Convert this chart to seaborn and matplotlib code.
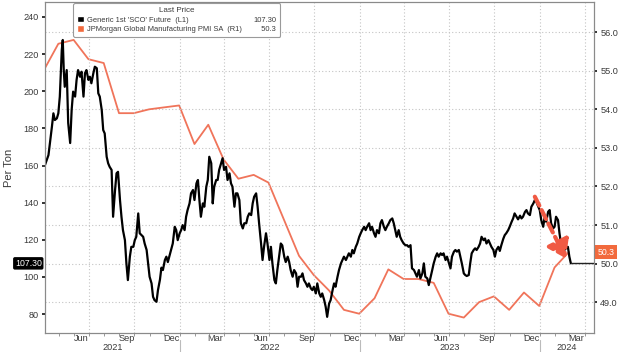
import pandas as pd
import matplotlib
matplotlib.use('Agg')
import matplotlib.pyplot as plt
import matplotlib.dates as mdates
import matplotlib.transforms as mtransforms
from matplotlib.patches import Patch
import seaborn as sns

# # Data
sco_dates = [
    '2021-04-03', '2021-04-10', '2021-04-17', '2021-04-20', '2021-04-23', '2021-04-27', '2021-04-30',
    '2021-05-03', '2021-05-07', '2021-05-09', '2021-05-11', '2021-05-13', '2021-05-17', '2021-05-20',
    '2021-05-24', '2021-05-27', '2021-05-30', '2021-06-03', '2021-06-06', '2021-06-09', '2021-06-13',
    '2021-06-16', '2021-06-20', '2021-06-23', '2021-06-26', '2021-06-30', '2021-07-03', '2021-07-06',
    '2021-07-10', '2021-07-13', '2021-07-17', '2021-07-20', '2021-07-23', '2021-07-27', '2021-07-30',
    '2021-08-02', '2021-08-06', '2021-08-09', '2021-08-12', '2021-08-16', '2021-08-19', '2021-08-23',
    '2021-08-26', '2021-08-29', '2021-09-02', '2021-09-05', '2021-09-08', '2021-09-12', '2021-09-15',
    '2021-09-18', '2021-09-22', '2021-09-25', '2021-09-29', '2021-10-02', '2021-10-05', '2021-10-09',
    '2021-10-12', '2021-10-19', '2021-10-22', '2021-10-26', '2021-10-29', '2021-11-01', '2021-11-05',
    '2021-11-08', '2021-11-11', '2021-11-15', '2021-11-18', '2021-11-22', '2021-11-25', '2021-11-28',
    '2021-12-02', '2021-12-05', '2021-12-08', '2021-12-12', '2021-12-18', '2021-12-22', '2021-12-25',
    '2021-12-28', '2022-01-01', '2022-01-04', '2022-01-07', '2022-01-11', '2022-01-14', '2022-01-17',
    '2022-01-21', '2022-01-24', '2022-01-28', '2022-01-31', '2022-02-04', '2022-02-07', '2022-02-10',
    '2022-02-13', '2022-02-17', '2022-02-20', '2022-02-24', '2022-02-27', '2022-03-02', '2022-03-06',
    '2022-03-09', '2022-03-12', '2022-03-16', '2022-03-19', '2022-03-22', '2022-03-26', '2022-03-29',
    '2022-04-01', '2022-04-05', '2022-04-08', '2022-04-12', '2022-04-15', '2022-04-18', '2022-04-22',
    '2022-04-25', '2022-04-28', '2022-05-02', '2022-05-05', '2022-05-09', '2022-05-12', '2022-05-16',
    '2022-05-19', '2022-05-22', '2022-05-26', '2022-05-29', '2022-06-01', '2022-06-05', '2022-06-08',
    '2022-06-11', '2022-06-15', '2022-06-18', '2022-06-21', '2022-06-25', '2022-06-28', '2022-07-02',
    '2022-07-05', '2022-07-08', '2022-07-12', '2022-07-15', '2022-07-18', '2022-07-22', '2022-07-25',
    '2022-07-28', '2022-08-01', '2022-08-04', '2022-08-08', '2022-08-11', '2022-08-14', '2022-08-18',
    '2022-08-21', '2022-08-25', '2022-08-28', '2022-08-31', '2022-09-04', '2022-09-07', '2022-09-10',
    '2022-09-14', '2022-09-17', '2022-09-20', '2022-09-24', '2022-09-27', '2022-09-30', '2022-10-04',
    '2022-10-07', '2022-10-11', '2022-10-14', '2022-10-17', '2022-10-21', '2022-10-24', '2022-10-27',
    '2022-10-31', '2022-11-03', '2022-11-07', '2022-11-10', '2022-11-13', '2022-11-17', '2022-11-20',
    '2022-11-24', '2022-11-27', '2022-11-30', '2022-12-04', '2022-12-07', '2022-12-10', '2022-12-14',
    '2022-12-17', '2022-12-20', '2022-12-24', '2022-12-27', '2022-12-31', '2023-01-03', '2023-01-06',
    '2023-01-10', '2023-01-13', '2023-01-16', '2023-01-20', '2023-01-23', '2023-01-26', '2023-01-30',
    '2023-02-02', '2023-02-05', '2023-02-09', '2023-02-12', '2023-02-15', '2023-02-19', '2023-02-22',
    '2023-02-25', '2023-03-01', '2023-03-04', '2023-03-08', '2023-03-11', '2023-03-14', '2023-03-17',
    '2023-03-21', '2023-03-24', '2023-03-27', '2023-03-31', '2023-04-04', '2023-04-07', '2023-04-10',
    '2023-04-14', '2023-04-17', '2023-04-21', '2023-04-24', '2023-04-27', '2023-05-01', '2023-05-04',
    '2023-05-08', '2023-05-11', '2023-05-14', '2023-05-18', '2023-05-21', '2023-05-25', '2023-05-28',
    '2023-05-31', '2023-06-04', '2023-06-07', '2023-06-10', '2023-06-14', '2023-06-17', '2023-06-20',
    '2023-06-24', '2023-06-27', '2023-07-01', '2023-07-04', '2023-07-07', '2023-07-11', '2023-07-14',
    '2023-07-17', '2023-07-21', '2023-07-24', '2023-07-27', '2023-07-31', '2023-08-03', '2023-08-06',
    '2023-08-10', '2023-08-13', '2023-08-16', '2023-08-20', '2023-08-23', '2023-08-26', '2023-08-30',
    '2023-09-02', '2023-09-05', '2023-09-09', '2023-09-12', '2023-09-15', '2023-09-19', '2023-09-22',
    '2023-09-25', '2023-09-29', '2023-10-02', '2023-10-05', '2023-10-09', '2023-10-12', '2023-10-15',
    '2023-10-19', '2023-10-22', '2023-10-25', '2023-10-29', '2023-11-01', '2023-11-05', '2023-11-08',
    '2023-11-11', '2023-11-15', '2023-11-18', '2023-11-22', '2023-11-25', '2023-11-28', '2023-12-02',
    '2023-12-05', '2023-12-08', '2023-12-12', '2023-12-15', '2023-12-19', '2023-12-22', '2023-12-25',
    '2023-12-29', '2024-01-01', '2024-01-04', '2024-01-08', '2024-01-11', '2024-01-14', '2024-01-18',
    '2024-01-21', '2024-01-24', '2024-01-28', '2024-01-31', '2024-02-03', '2024-02-07', '2024-02-10',
    '2024-02-13', '2024-02-17', '2024-02-20', '2024-02-23', '2024-02-27', '2024-03-01', '2024-03-04',
]
sco_price = [
    160.3, 165.6, 180.9, 188.1, 184.5, 185.4, 188.1,
    197.1, 222.2, 227.6, 211.4, 202.4, 211.4, 182.9,
    172.1, 189.9, 199.8, 197.1, 206.1, 211.4, 207.8,
    210.5, 197.1, 209.7, 211.4, 206.1, 207.8, 204.3,
    209.7, 213.2, 212.4, 198.9, 197.1, 189.9, 179.1,
    177.3, 164.7, 161.2, 159.3, 157.6, 132.4, 146.8,
    155.8, 156.6, 141.4, 132.4, 125.2, 119.8, 107.3,
    98.3, 110.9, 116.2, 116.2, 119.8, 121.6, 134.2,
    123.5, 121.6, 118.0, 114.5, 107.3, 100.1, 96.5,
    89.3, 87.5, 86.6, 92.9, 98.5, 105.0, 103.7,
    109.1, 110.9, 108.0, 112.0, 118.0, 127.0, 125.2,
    119.8, 123.5, 125.2, 127.9, 125.2, 132.4, 136.0,
    139.6, 145.0, 146.8, 141.4, 150.4, 152.2, 141.4,
    132.4, 139.6, 137.8, 148.6, 152.2, 164.7, 161.2,
    139.6, 148.6, 152.2, 152.2, 157.6, 161.2, 163.9,
    157.6, 159.3, 152.2, 155.8, 150.4, 148.6, 137.8,
    145.0, 145.0, 141.4, 128.9, 126.1, 128.9, 128.9,
    132.4, 134.2, 133.3, 139.6, 143.2, 145.0, 137.8,
    128.9, 118.0, 109.1, 116.2, 123.5, 118.0, 109.1,
    116.2, 107.3, 98.3, 96.5, 103.7, 112.0, 118.0,
    117.0, 110.9, 108.0, 110.9, 108.0, 103.7, 100.1,
    103.7, 101.9, 94.7, 100.1, 100.1, 101.9, 98.3,
    96.5, 94.7, 96.5, 93.8, 92.9, 94.7, 91.1,
    96.5, 91.1, 89.3, 91.1, 87.5, 83.9, 78.5,
    85.7, 87.5, 92.9, 96.5, 94.7, 100.1, 103.7,
    107.3, 109.1, 110.9, 109.1, 110.9, 112.7, 110.9,
    114.5, 112.7, 116.2, 118.0, 121.6, 123.5, 125.2,
    127.0, 125.2, 127.0, 128.9, 125.2, 127.0, 123.5,
    121.6, 125.2, 123.5, 128.9, 130.6, 127.0, 125.2,
    127.0, 128.9, 130.6, 131.5, 128.9, 125.2, 121.6,
    125.2, 121.6, 119.8, 118.0, 117.0, 117.1, 116.2,
    117.1, 104.6, 103.7, 101.9, 100.1, 103.7, 99.2,
    101.9, 107.3, 100.1, 99.2, 95.6, 100.1, 103.7,
    107.3, 110.9, 112.7, 110.9, 112.7, 111.8, 112.7,
    109.1, 110.9, 107.3, 104.6, 110.9, 113.6, 114.5,
    113.6, 114.5, 110.9, 107.3, 101.9, 101.0, 100.5,
    101.0, 107.3, 112.7, 114.5, 115.4, 114.5, 116.2,
    118.0, 121.6, 119.8, 120.7, 118.0, 119.8, 118.0,
    116.2, 114.5, 110.9, 114.5, 116.2, 114.0, 117.0,
    120.5, 122.5, 123.5, 125.2, 127.0, 129.7, 131.5,
    134.2, 132.4, 131.0, 133.0, 131.5, 132.4, 135.0,
    136.0, 134.2, 133.3, 137.8, 139.6, 141.4, 140.5,
    137.8, 136.0, 130.6, 127.0, 132.4, 129.7, 135.1,
    136.0, 128.9, 126.1, 127.0, 132.4, 130.6, 123.5,
    118.0, 116.2, 114.5, 115.4, 116.2, 110.9, 107.3,
]

pmi_dates = [
    '2021-02-28', '2021-03-31', '2021-04-30', '2021-05-31', '2021-06-30', '2021-07-31',
    '2021-08-31', '2021-09-30', '2021-10-31', '2021-11-30', '2021-12-31',
    '2022-01-31', '2022-02-28', '2022-03-31', '2022-04-30', '2022-05-31', '2022-06-30',
    '2022-07-31', '2022-08-31', '2022-09-30', '2022-10-31', '2022-11-30', '2022-12-31',
    '2023-01-31', '2023-02-28', '2023-03-31', '2023-04-30', '2023-05-31', '2023-06-30',
    '2023-07-31', '2023-08-31', '2023-09-30', '2023-10-31', '2023-11-30', '2023-12-31',
    '2024-01-31', '2024-02-29',
]
pmi_values = [
    53.9, 55.0, 55.7, 55.8, 55.3, 55.2,
    53.9, 53.9, 54.0, 54.05, 54.1,
    53.1, 53.6, 52.7, 52.2, 52.3, 52.1,
    51.15, 50.2, 49.7, 49.3, 48.8, 48.7,
    49.1, 49.85, 49.6, 49.6, 49.5, 48.7,
    48.6, 49.0, 49.15, 48.8, 49.25, 48.9,
    49.9, 50.3,
]

left_ticks = [80, 100, 120, 140, 160, 180, 200, 220, 240]
right_ticks = [49.0, 50.0, 51.0, 52.0, 53.0, 54.0, 55.0, 56.0]
years = ['2021', '2022', '2023', '2024']
x_start, x_end = pd.Timestamp('2021-04-03'), pd.Timestamp('2024-04-20')

sco = pd.DataFrame({'date': pd.to_datetime(sco_dates), 'price': sco_price})
pmi = pd.DataFrame({'date': pd.to_datetime(pmi_dates), 'pmi': pmi_values})

sns.set_style('white')
plt.rcParams['font.family'] = ['Liberation Sans Narrow', 'Liberation Sans', 'DejaVu Sans']

orange = '#f0745a'
tag_orange = '#f26a3d'
grid_kw = dict(color='#c4c4c4', linestyle=(0, (1, 2)), linewidth=0.8)
txt = '#3a3a3a'
fs = 6.6

fig = plt.figure(figsize=(6.2, 3.52), dpi=100)
ax = fig.add_axes([0.0726, 0.054, 0.8855, 0.94])
ax2 = ax.twinx()
ax.set_zorder(ax2.get_zorder() + 1)
ax.patch.set_visible(False)

sns.lineplot(data=pmi, x='date', y='pmi', ax=ax2, color=orange, lw=1.3)
sns.lineplot(data=sco, x='date', y='price', ax=ax, color='black', lw=1.6)
# last price carried forward to the edge
ax.hlines(sco['price'].iloc[-1], sco['date'].iloc[-1], x_end, color='#222222', lw=1.0)

ax.set_xlim(x_start, x_end)
ax.set_ylim(69.8, 248)
ax2.set_ylim(48.2, 56.78)

# y axes
ax.set_yticks(left_ticks)
ax2.set_yticks(right_ticks)
ax2.yaxis.set_major_formatter(plt.FormatStrFormatter('%.1f'))
for a in (ax, ax2):
    a.tick_params(axis='y', direction='out', length=2.5, width=1.4, color='#333333',
                  labelsize=fs, labelcolor=txt, pad=2)
ax.set_ylabel('Per Ton', fontsize=8, color=txt, labelpad=7)
ax2.set_ylabel('')
ax.set_xlabel('')
ax2.yaxis.grid(True, **grid_kw)
ax.grid(False)

# x axis: monthly ticks, quarter month labels in mid month
ax.xaxis.set_minor_locator(mdates.MonthLocator())
ax.xaxis.set_major_locator(mdates.MonthLocator(bymonth=[3, 6, 9, 12], bymonthday=15))
ax.xaxis.set_major_formatter(mdates.DateFormatter('%b'))
ax.tick_params(axis='x', which='major', length=0, labelsize=fs, labelcolor=txt, pad=0.8)
ax.tick_params(axis='x', which='minor', length=2.5, width=0.6, color='#888888', bottom=True)
for d in pd.date_range('2021-04-01', x_end, freq='QS'):
    ax2.axvline(d, **grid_kw)

trans = mtransforms.blended_transform_factory(ax.transData, ax.transAxes)
for y in years:
    lo = max(pd.Timestamp(f'{y}-01-01'), x_start)
    hi = min(pd.Timestamp(f'{int(y) + 1}-01-01'), x_end)
    ax.text(lo + (hi - lo) / 2, -0.044, y, transform=trans, ha='center', va='center',
            fontsize=fs, color=txt)
    if lo > x_start:
        ax.plot([lo, lo], [-0.02, -0.07], transform=trans, color='#bbbbbb', lw=0.8, clip_on=False)

for a in (ax, ax2):
    for s in a.spines.values():
        s.set_color('#8a8a8a')
        s.set_linewidth(0.8)

# last price tags
tl = mtransforms.blended_transform_factory(ax.transAxes, ax.transData)
ax.text(-0.006, sco['price'].iloc[-1], f"{sco['price'].iloc[-1]:.2f}", transform=tl,
        ha='right', va='center', fontsize=6.3, color='white',
        bbox=dict(boxstyle='round,pad=0.2', fc='black', ec='none'))
tr = mtransforms.blended_transform_factory(ax2.transAxes, ax2.transData)
ax2.text(1.006, pmi['pmi'].iloc[-1], f"{pmi['pmi'].iloc[-1]:.1f}", transform=tr,
         ha='left', va='center', fontsize=6.3, color='white',
         bbox=dict(boxstyle='square,pad=0.25', fc=tag_orange, ec='none'))

# red dashed arrow
ax.annotate('', xy=(pd.Timestamp('2024-02-23'), 110.0), xytext=(pd.Timestamp('2023-12-22'), 143.2),
            arrowprops=dict(arrowstyle='-|>,head_length=0.8,head_width=0.55', color='#f05a44',
                            lw=3.0, linestyle=(0, (2.4, 1.2)), mutation_scale=13, shrinkA=0, shrinkB=0))

# legend
handles = [Patch(facecolor='black'), Patch(facecolor=tag_orange),
           Patch(alpha=0), Patch(alpha=0)]
labels = ["Generic 1st 'SCO' Future  (L1)", 'JPMorgan Global Manufacturing PMI SA  (R1)',
          f"{sco['price'].iloc[-1]:.2f}", '\u2007\u2007' + f"{pmi['pmi'].iloc[-1]:.1f}"]
leg = ax.legend(handles, labels, ncol=2, title='Last Price', loc='upper left',
                bbox_to_anchor=(0.051, 0.996), borderaxespad=0, fontsize=5.4, title_fontsize=5.8,
                frameon=True, handlelength=1.0, handleheight=1.0, handletextpad=0.35,
                columnspacing=0.2, borderpad=0.5, labelspacing=0.2, fancybox=True, framealpha=1)
leg.get_frame().set_edgecolor('#9a9a9a')
leg.get_frame().set_linewidth(0.8)
for t in leg.get_texts():
    t.set_color(txt)
leg.get_title().set_color(txt)

fig.savefig('out.png', dpi=100)
